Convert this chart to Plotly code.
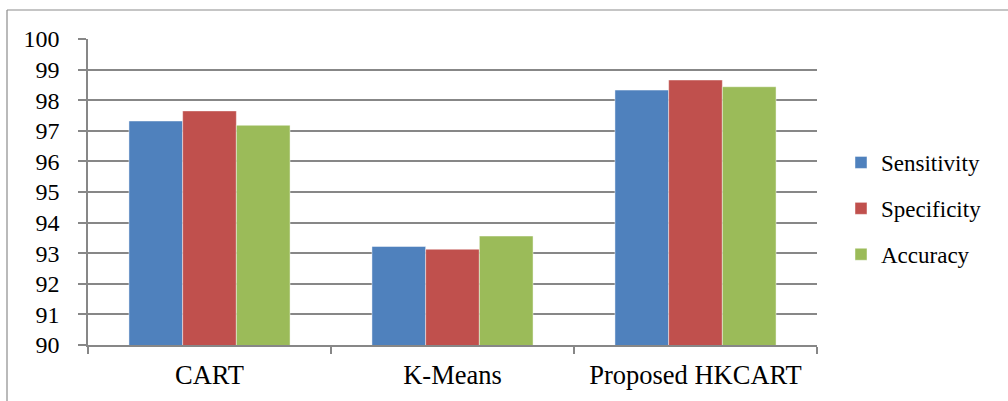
import plotly.graph_objects as go

categories = ["CART", "K-Means", "Proposed HKCART"]
sensitivity = [97.32, 93.22, 98.33]
specificity = [97.65, 93.13, 98.66]
accuracy = [97.18, 93.56, 98.44]

series = [
    ("Sensitivity", sensitivity, "#4F81BD"),
    ("Specificity", specificity, "#C0504D"),
    ("Accuracy", accuracy, "#9BBB59"),
]

W, H = 1008, 401
ML, MR, MT, MB = 88, 191, 39, 56
PW, PH = W - ML - MR, H - MT - MB

fig = go.Figure()
for name, vals, color in series:
    fig.add_trace(go.Bar(
        x=categories, y=vals, name=name, legendgroup=name,
        marker=dict(color=color, line=dict(color="rgba(255,255,255,0.45)", width=1)),
    ))

grid = "#878787"
font = "Liberation Serif, Times New Roman, serif"

fig.update_layout(
    width=W, height=H,
    margin=dict(l=ML, r=MR, t=MT, b=MB),
    paper_bgcolor="white", plot_bgcolor="white",
    barmode="group", bargap=0.337, bargroupgap=0,
    font=dict(family=font, size=24, color="black"),
    legend=dict(
        x=(841 - ML) / PW, y=(MT + PH - 141) / PH, xanchor="left", yanchor="top",
        font=dict(family=font, size=23, color="black"),
        tracegroupgap=13, itemwidth=30, traceorder="grouped",
        bgcolor="rgba(0,0,0,0)",
    ),
    xaxis=dict(
        type="category", showline=True, linecolor=grid, linewidth=1.5,
        ticks="outside", tickson="boundaries", ticklen=7, tickcolor=grid, tickwidth=1.5,
        showgrid=False, ticklabelstandoff=5,
        tickfont=dict(family=font, size=26.5, color="black"),
    ),
    yaxis=dict(
        range=[90, 100], dtick=1, tick0=90,
        showline=True, linecolor=grid, linewidth=1.5,
        ticks="outside", ticklen=8, tickcolor=grid, tickwidth=1.5,
        showgrid=True, gridcolor=grid, gridwidth=1.5,
        zeroline=False, ticklabelstandoff=14,
        tickfont=dict(family=font, size=24, color="black"),
    ),
    showlegend=True,
)

# outer chart frame (left and top edges visible)
fx = (7 - ML) / PW
fy = (H - MB - 10) / PH
fig.add_shape(type="line", xref="paper", yref="paper", x0=fx, x1=fx, y0=-0.3, y1=fy,
              line=dict(color="#8c8c8c", width=1.2))
fig.add_shape(type="line", xref="paper", yref="paper", x0=fx, x1=1.4, y0=fy, y1=fy,
              line=dict(color="#8c8c8c", width=1.2))

fig.write_html("out.html")
